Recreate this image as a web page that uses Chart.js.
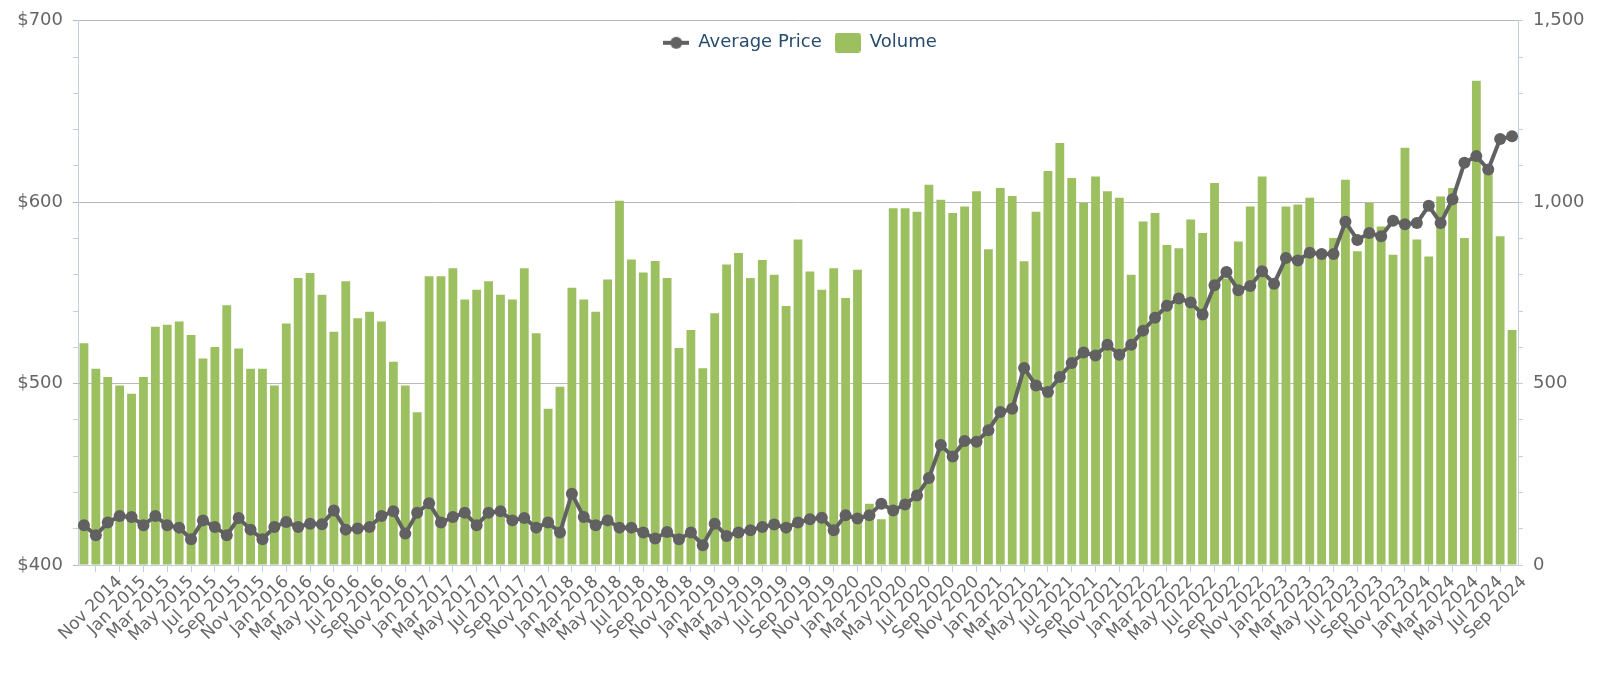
<!DOCTYPE html>
<html>
<head>
<meta charset="utf-8">
<title>Average Price and Volume</title>
<script src="https://cdn.jsdelivr.net/npm/chart.js@4.4.1/dist/chart.umd.min.js"></script>
<style>
  html, body { margin: 0; padding: 0; background: #fff; }
  #wrap { width: 1600px; height: 674px; position: relative; }
</style>
</head>
<body>
<div id="wrap"><canvas id="priceChart"></canvas></div>
<script>
// monthly categories, Aug 2014 - Aug 2024
const months = [
  'Aug 2014', 'Sep 2014', 'Oct 2014', 'Nov 2014', 'Dec 2014',
  'Jan 2015', 'Feb 2015', 'Mar 2015', 'Apr 2015', 'May 2015', 'Jun 2015', 'Jul 2015', 'Aug 2015', 'Sep 2015', 'Oct 2015', 'Nov 2015', 'Dec 2015',
  'Jan 2016', 'Feb 2016', 'Mar 2016', 'Apr 2016', 'May 2016', 'Jun 2016', 'Jul 2016', 'Aug 2016', 'Sep 2016', 'Oct 2016', 'Nov 2016', 'Dec 2016',
  'Jan 2017', 'Feb 2017', 'Mar 2017', 'Apr 2017', 'May 2017', 'Jun 2017', 'Jul 2017', 'Aug 2017', 'Sep 2017', 'Oct 2017', 'Nov 2017', 'Dec 2017',
  'Jan 2018', 'Feb 2018', 'Mar 2018', 'Apr 2018', 'May 2018', 'Jun 2018', 'Jul 2018', 'Aug 2018', 'Sep 2018', 'Oct 2018', 'Nov 2018', 'Dec 2018',
  'Jan 2019', 'Feb 2019', 'Mar 2019', 'Apr 2019', 'May 2019', 'Jun 2019', 'Jul 2019', 'Aug 2019', 'Sep 2019', 'Oct 2019', 'Nov 2019', 'Dec 2019',
  'Jan 2020', 'Feb 2020', 'Mar 2020', 'Apr 2020', 'May 2020', 'Jun 2020', 'Jul 2020', 'Aug 2020', 'Sep 2020', 'Oct 2020', 'Nov 2020', 'Dec 2020',
  'Jan 2021', 'Feb 2021', 'Mar 2021', 'Apr 2021', 'May 2021', 'Jun 2021', 'Jul 2021', 'Aug 2021', 'Sep 2021', 'Oct 2021', 'Nov 2021', 'Dec 2021',
  'Jan 2022', 'Feb 2022', 'Mar 2022', 'Apr 2022', 'May 2022', 'Jun 2022', 'Jul 2022', 'Aug 2022', 'Sep 2022', 'Oct 2022', 'Nov 2022', 'Dec 2022',
  'Jan 2023', 'Feb 2023', 'Mar 2023', 'Apr 2023', 'May 2023', 'Jun 2023', 'Jul 2023', 'Aug 2023', 'Sep 2023', 'Oct 2023', 'Nov 2023', 'Dec 2023',
  'Jan 2024', 'Feb 2024', 'Mar 2024', 'Apr 2024', 'May 2024', 'Jun 2024', 'Jul 2024', 'Aug 2024'
];

const avgPrice = [
  421.9, 416.4, 423.4, 427.0, 426.4,
  421.9, 427.0, 421.9, 420.6, 414.2, 424.6, 421.0, 416.4, 425.9, 419.5, 414.2, 421.0,
  423.7, 421.0, 422.8, 422.4, 430.1, 419.5, 420.1, 421.0, 427.0, 429.6, 417.3, 428.8,
  434.1, 423.4, 426.4, 428.8, 421.9, 428.8, 429.6, 424.6, 425.9, 420.6, 423.4, 417.9,
  439.3, 426.4, 421.9, 424.6, 420.6, 420.6, 417.9, 414.6, 418.2, 414.2, 417.9, 410.9,
  422.8, 416.0, 417.9, 419.2, 421.0, 422.3, 420.6, 423.4, 425.2, 426.1, 419.2, 427.4,
  425.6, 427.4, 433.8, 430.1, 433.4, 438.3, 448.0, 466.1, 459.8, 468.4, 467.9, 474.3,
  484.3, 486.1, 508.6, 498.9, 495.4, 503.6, 511.3, 517.1, 515.5, 521.4, 515.9, 521.4,
  529.2, 536.3, 542.9, 546.9, 544.7, 538.1, 554.2, 561.5, 551.5, 553.8, 561.9, 555.1,
  569.2, 567.9, 572.1, 571.5, 571.5, 589.2, 579.2, 583.0, 581.2, 589.8, 587.9, 588.5,
  598.0, 588.5, 601.6, 621.7, 625.4, 618.0, 634.9, 636.3
];

const volume = [
  611, 541, 518, 495, 472,
  518, 657, 662, 671, 634, 569, 601, 716, 597, 541, 541, 495,
  666, 791, 805, 745, 643, 782, 680, 698, 671, 560, 495, 421,
  796, 796, 818, 732, 759, 782, 745, 732, 818, 639, 431, 491,
  764, 732, 698, 787, 1004, 842, 806, 838, 791, 598, 648, 542,
  694, 828, 860, 791, 841, 800, 714, 897, 809, 759, 818, 736,
  814, 169, 126, 983, 983, 974, 1048, 1007, 970, 988, 1030, 870,
  1039, 1017, 837, 974, 1086, 1163, 1067, 998, 1071, 1030, 1012, 800,
  947, 970, 882, 873, 952, 915, 1053, 790, 892, 988, 1071, 780,
  988, 994, 1012, 860, 901, 1062, 865, 998, 933, 855, 1150, 897,
  850, 1016, 1039, 901, 1335, 1090, 906, 648
];

const priceTicks = [400, 450, 500, 550, 600, 650, 700];
const volumeTicks = [0, 250, 500, 750, 1000, 1250, 1500];
const extraLabel = 'Sep 2024';

const LINE = '#616161';
const GREEN = '#9cbf60';
const AXIS = '#c0d0e0';
const GRID = '#b8b8b8';
const TEXT = '#666666';

Chart.defaults.font.family = '"DejaVu Sans", sans-serif';
Chart.defaults.font.size = 17;
Chart.defaults.color = TEXT;

// legend symbols
function lineIcon() {
  const c = document.createElement('canvas');
  c.width = 26; c.height = 14;
  const g = c.getContext('2d');
  g.strokeStyle = LINE; g.lineWidth = 4;
  g.beginPath(); g.moveTo(0, 7); g.lineTo(26, 7); g.stroke();
  g.fillStyle = LINE;
  g.beginPath(); g.arc(13, 7, 6, 0, Math.PI * 2); g.fill();
  return c;
}
function boxIcon() {
  const c = document.createElement('canvas');
  c.width = 26; c.height = 20;
  const g = c.getContext('2d');
  g.fillStyle = GREEN;
  g.beginPath(); g.roundRect(0, 0, 26, 20, 3); g.fill();
  return c;
}
const icons = [lineIcon(), boxIcon()];

// legend floats over the plot: no height while laying out, real height when drawn
const floatLegend = {
  id: 'floatLegend',
  beforeInit(chart) {
    const lg = chart.legend;
    const fit = lg.fit;
    lg.fit = function () {
      fit.call(this);
      this._realHeight = this.height;
      this.height = 0;
    };
  },
  afterLayout(chart) {
    const lg = chart.legend;
    lg.height = lg._realHeight;
    lg.bottom = lg.top + lg._realHeight;
  }
};

// last x label sits one step past the last bar
const lastLabel = {
  id: 'lastLabel',
  afterDraw(chart) {
    const xs = chart.scales.x;
    const items = xs.getLabelItems();
    const ref = items.find(it => it.label === 'Jul 2024');
    if (!ref) return;
    const step = xs.getPixelForValue(1) - xs.getPixelForValue(0);
    const o = ref.options;
    const ctx = chart.ctx;
    ctx.save();
    ctx.translate(o.translation[0] + 2 * step, o.translation[1]);
    ctx.rotate(o.rotation);
    ctx.font = ref.font.string;
    ctx.fillStyle = TEXT;
    ctx.textAlign = o.textAlign;
    ctx.textBaseline = o.textBaseline;
    ctx.fillText(extraLabel, 0, ref.textOffset);
    ctx.restore();
  }
};

new Chart(document.getElementById('priceChart'), {
  type: 'bar',
  data: {
    labels: months,
    datasets: [{
      type: 'line',
      label: 'Average Price',
      data: avgPrice,
      yAxisID: 'y',
      borderColor: LINE,
      backgroundColor: LINE,
      borderWidth: 4,
      pointRadius: 6,
      pointBorderWidth: 0,
      pointBackgroundColor: LINE,
      tension: 0,
      order: 0
    }, {
      type: 'bar',
      label: 'Volume',
      data: volume,
      yAxisID: 'y1',
      backgroundColor: GREEN,
      borderWidth: 0,
      categoryPercentage: 1,
      barPercentage: 0.74,
      order: 1
    }]
  },
  options: {
    responsive: true,
    maintainAspectRatio: false,
    animation: false,
    layout: { padding: { top: 17, left: 0, right: 0, bottom: 0 } },
    plugins: {
      tooltip: { enabled: false },
      legend: {
        position: 'top',
        labels: {
          color: '#274b6d',
          font: { size: 18 },
          padding: 13,
          usePointStyle: true,
          pointStyleWidth: 26,
          generateLabels(chart) {
            const items = Chart.defaults.plugins.legend.labels.generateLabels(chart);
            items.forEach((it, i) => { it.pointStyle = icons[i]; it.fontColor = '#274b6d'; });
            return items;
          }
        }
      }
    },
    scales: {
      x: {
        offset: true,
        grid: { offset: false, drawOnChartArea: false, tickLength: 7, tickColor: AXIS, color: AXIS },
        border: { color: AXIS },
        ticks: {
          autoSkip: false,
          minRotation: 45,
          maxRotation: 45,
          padding: 0,
          color: TEXT,
          font: { size: 17 },
          callback(v, i) {
            if (i % 2 === 0) return null;
            return i === 1 ? '' : months[i];
          }
        },
        afterFit(s) { s.height = 109; }
      },
      y: {
        position: 'left',
        min: 400,
        max: 700,
        grid: {
          tickLength: 5,
          color: c => priceTicks.includes(c.tick.value) ? GRID : 'rgba(0,0,0,0)',
          tickColor: c => priceTicks.includes(c.tick.value) ? GRID : AXIS
        },
        border: { color: AXIS },
        ticks: {
          stepSize: 10,
          padding: 10,
          color: TEXT,
          font: { size: 18 },
          callback: v => priceTicks.includes(v) ? '$' + v : ''
        },
        afterFit(s) { s.width = 78; }
      },
      y1: {
        position: 'right',
        min: 0,
        max: 1500,
        grid: { drawOnChartArea: false, tickLength: 5, tickColor: AXIS },
        border: { color: AXIS },
        ticks: {
          stepSize: 50,
          padding: 10,
          color: TEXT,
          font: { size: 18 },
          callback: v => volumeTicks.includes(v) ? v.toLocaleString('en-US') : ''
        },
        afterFit(s) { s.width = 82; }
      }
    }
  },
  plugins: [floatLegend, lastLabel]
});
</script>
</body>
</html>
